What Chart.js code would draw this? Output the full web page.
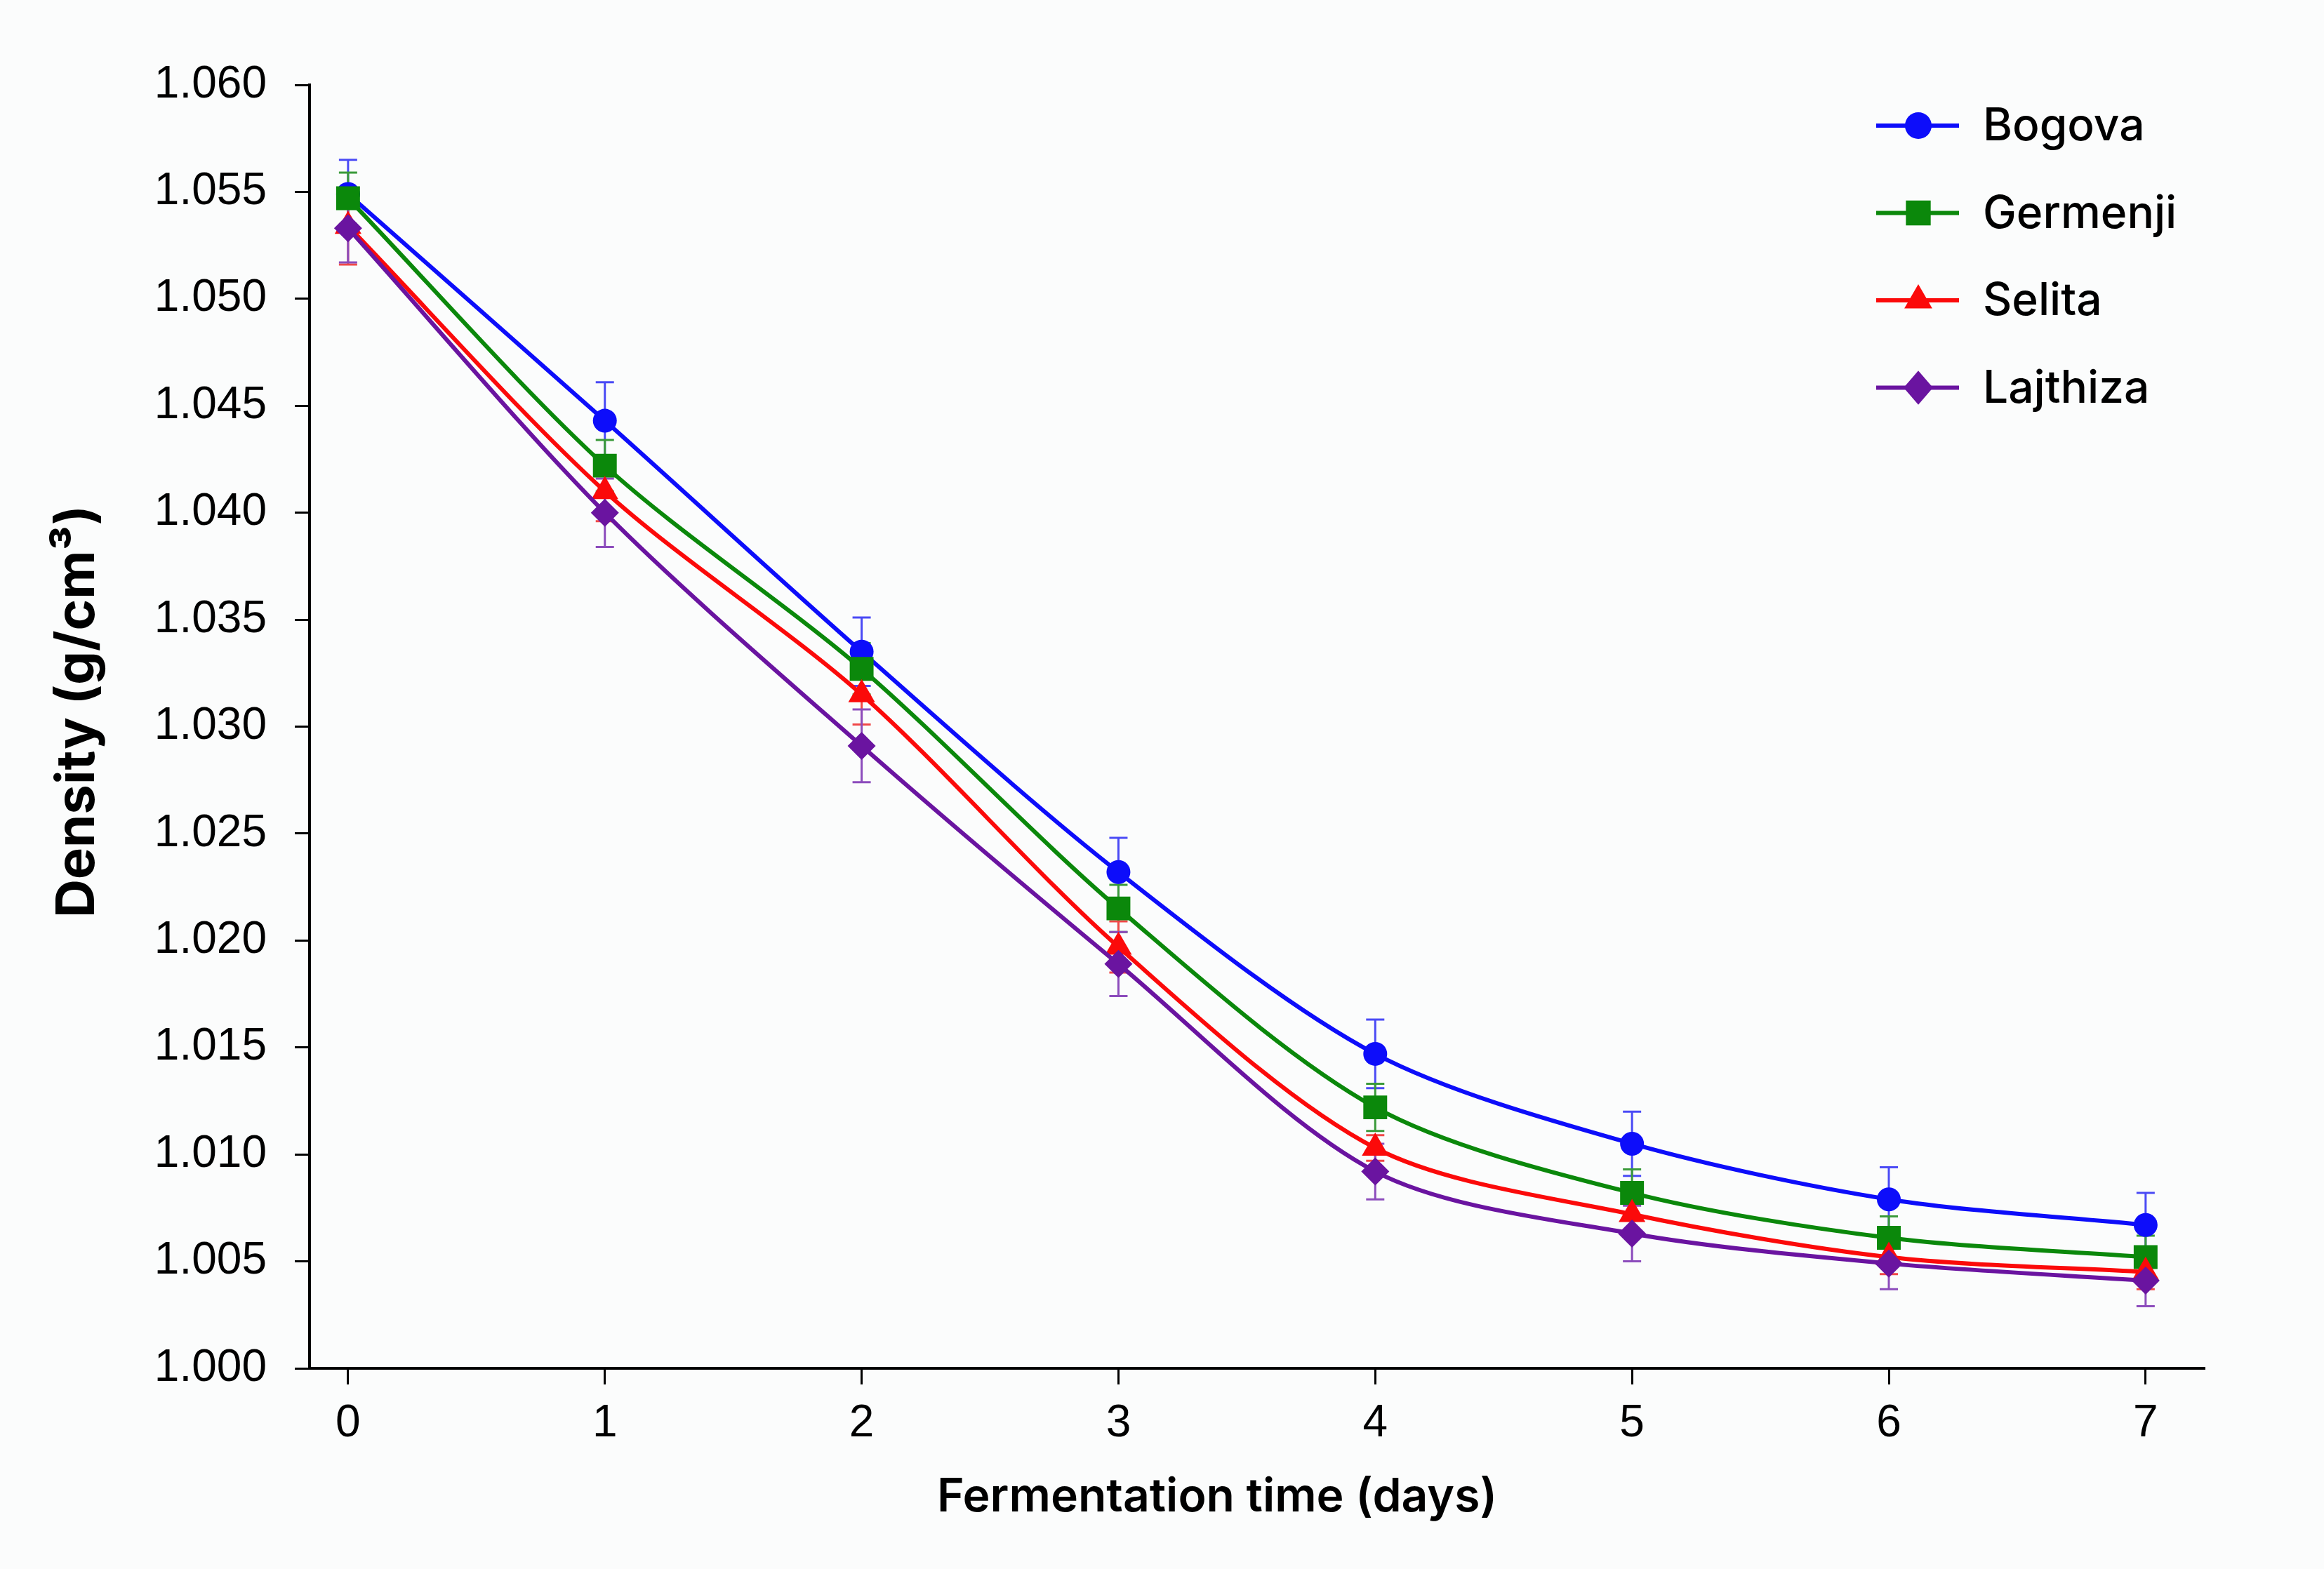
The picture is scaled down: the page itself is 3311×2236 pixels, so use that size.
<!DOCTYPE html>
<html>
<head>
<meta charset="utf-8">
<title>Density during fermentation</title>
<script src="https://cdn.jsdelivr.net/npm/chart.js@4.4.1/dist/chart.umd.min.js"></script>
<style>
  html, body { margin: 0; padding: 0; background: #fbfcfc; }
  #density-chart { display: block; }
</style>
</head>
<body>
<canvas id="density-chart" width="3311" height="2236"></canvas>
<script>
// values
const days = [0, 1, 2, 3, 4, 5, 6, 7];
const yTicks = [1.000, 1.005, 1.010, 1.015, 1.020, 1.025, 1.030, 1.035, 1.040, 1.045, 1.050, 1.055, 1.060];

const bogova      = [1.0549, 1.0443, 1.0335, 1.0232, 1.0147, 1.0105, 1.0079, 1.0067];
const bogovaErr   = [0.0016, 0.0018, 0.0016, 0.0016, 0.0016, 0.0015, 0.0015, 0.0015];
const germenji    = [1.0547, 1.0422, 1.0327, 1.0215, 1.0122, 1.0082, 1.0061, 1.0052];
const germenjiErr = [0.0012, 0.0012, 0.0012, 0.0011, 0.0011, 0.0011, 0.0010, 0.0010];
const selita      = [1.0534, 1.0410, 1.0315, 1.0197, 1.0103, 1.0072, 1.0052, 1.0045];
const selitaErr   = [0.0018, 0.0014, 0.0014, 0.0012, 0.0006, 0.0008, 0.0008, 0.0008];
const lajthiza    = [1.0533, 1.0400, 1.0291, 1.0189, 1.0092, 1.0063, 1.0049, 1.0041];
const lajthizaErr = [0.0016, 0.0016, 0.0017, 0.0015, 0.0013, 0.0013, 0.0012, 0.0012];

const xTitle = 'Fermentation time (days)';
const yTitle = 'Density (g/cm\u00B3)';

function toPoints(values) {
  return values.map((v, i) => ({ x: days[i], y: v }));
}

function makeSet(label, values, errors, color, barColor, style, radius, order) {
  return {
    label: label,
    data: toPoints(values),
    errors: errors,
    barColor: barColor,
    borderColor: color,
    backgroundColor: color,
    borderWidth: 6,
    pointStyle: style,
    pointRadius: radius,
    pointBorderWidth: 0,
    pointBackgroundColor: color,
    tension: 0.3,
    order: order,
  };
}

const datasets = [
  makeSet('Bogova',   bogova,   bogovaErr,   '#0d0dfa', '#4a4af5', 'circle',   17, 3),
  makeSet('Germenji', germenji, germenjiErr, '#0b880b', '#3a9a3a', 'rect',     24, 2),
  makeSet('Selita',   selita,   selitaErr,   '#fb0a0a', '#f04848', 'triangle', 22, 1),
  makeSet('Lajthiza', lajthiza, lajthizaErr, '#6a14a0', '#8c4cbc', 'rectRot',  20, 0),
];

// vertical error bars with caps, drawn under the lines
const errorBars = {
  id: 'errorBars',
  beforeDatasetsDraw(chart) {
    const ctx = chart.ctx;
    const xs = chart.scales.x;
    const ys = chart.scales.y;
    ctx.save();
    chart.data.datasets.forEach(function(ds) {
      ctx.strokeStyle = ds.barColor;
      ctx.lineWidth = 3;
      ds.data.forEach(function(p, j) {
        const e = ds.errors[j];
        const x = xs.getPixelForValue(p.x);
        const yTop = ys.getPixelForValue(p.y + e);
        const yBot = ys.getPixelForValue(p.y - e);
        ctx.beginPath();
        ctx.moveTo(x, yTop); ctx.lineTo(x, yBot);
        ctx.moveTo(x - 13, yTop); ctx.lineTo(x + 13, yTop);
        ctx.moveTo(x - 13, yBot); ctx.lineTo(x + 13, yBot);
        ctx.stroke();
      });
    });
    ctx.restore();
  }
};

function drawMarker(ctx, style, x, y, r) {
  ctx.beginPath();
  if (style === 'circle') {
    ctx.arc(x, y, r, 0, Math.PI * 2);
  } else if (style === 'rect') {
    const s = r * Math.SQRT1_2;
    ctx.rect(x - s, y - s, 2 * s, 2 * s);
  } else if (style === 'triangle') {
    ctx.moveTo(x, y - r);
    ctx.lineTo(x + r * 0.866, y + r * 0.5);
    ctx.lineTo(x - r * 0.866, y + r * 0.5);
    ctx.closePath();
  } else {
    ctx.moveTo(x, y - r * 1.1);
    ctx.lineTo(x + r * 0.95, y);
    ctx.lineTo(x, y + r * 1.1);
    ctx.lineTo(x - r * 0.95, y);
    ctx.closePath();
  }
  ctx.fill();
}

// legend with line + marker, top right inside the plot
const lineLegend = {
  id: 'lineLegend',
  afterDraw(chart) {
    const ctx = chart.ctx;
    const area = chart.chartArea;
    const x0 = area.right - 468;
    const sizes = { circle: 19, rect: 25, triangle: 23, rectRot: 22 };
    ctx.save();
    chart.data.datasets.forEach(function(ds, i) {
      const y = area.top + 58 + i * 124.5;
      ctx.strokeStyle = ds.borderColor;
      ctx.lineWidth = 6;
      ctx.beginPath();
      ctx.moveTo(x0, y); ctx.lineTo(x0 + 118, y);
      ctx.stroke();
      ctx.fillStyle = ds.borderColor;
      drawMarker(ctx, ds.pointStyle, x0 + 60, y, sizes[ds.pointStyle]);
      ctx.fillStyle = '#000';
      ctx.font = '500 64px Inter';
      ctx.textBaseline = 'middle';
      ctx.textAlign = 'left';
      ctx.fillText(ds.label, x0 + 152, y + 2);
    });
    ctx.restore();
  }
};

// axis titles placed where the figure has them
const axisTitles = {
  id: 'axisTitles',
  afterDraw(chart) {
    const ctx = chart.ctx;
    const area = chart.chartArea;
    ctx.save();
    ctx.fillStyle = '#000';
    ctx.textAlign = 'center';
    ctx.textBaseline = 'middle';
    ctx.font = '600 66px Inter';
    ctx.fillText(xTitle, area.left + 1293, area.bottom + 184);
    ctx.translate(area.left - 330, area.top + 893);
    ctx.rotate(-Math.PI / 2);
    ctx.font = '700 76px Inter';
    ctx.fillText(yTitle, 0, 0);
    ctx.restore();
  }
};

Chart.defaults.color = '#000';
Chart.defaults.font.family = 'Liberation Sans';

const ctx = document.getElementById('density-chart').getContext('2d');
const densityChart = new Chart(ctx, {
  type: 'line',
  data: { datasets: datasets },
  plugins: [errorBars, lineLegend, axisTitles],
  options: {
    responsive: false,
    animation: false,
    devicePixelRatio: 1,
    layout: { padding: { top: 121, right: 170, bottom: 0, left: 0 } },
    plugins: {
      legend: { display: false },
      tooltip: { enabled: false },
    },
    scales: {
      x: {
        type: 'linear',
        min: -0.15,
        max: 7.23,
        afterBuildTicks: function(s) { s.ticks = days.map(v => ({ value: v })); },
        afterFit: function(s) { s.height = 286; },
        ticks: {
          font: { size: 64 },
          color: '#000',
          padding: 18,
          maxRotation: 0,
          callback: v => String(v),
        },
        grid: { drawOnChartArea: false, drawTicks: true, tickLength: 23, tickWidth: 3, color: '#000' },
        border: { display: true, color: '#000', width: 4 },
        title: { display: false, text: xTitle },
      },
      y: {
        type: 'linear',
        min: 1.000,
        max: 1.060,
        afterBuildTicks: function(s) { s.ticks = yTicks.map(v => ({ value: v })); },
        afterFit: function(s) { s.width = 441; },
        ticks: {
          font: { size: 64 },
          color: '#000',
          padding: 40,
          callback: v => v.toFixed(3),
        },
        grid: { drawOnChartArea: false, drawTicks: true, tickLength: 21, tickWidth: 3, color: '#000' },
        border: { display: true, color: '#000', width: 4 },
        title: { display: false, text: yTitle },
      },
    },
  },
});
</script>
</body>
</html>
